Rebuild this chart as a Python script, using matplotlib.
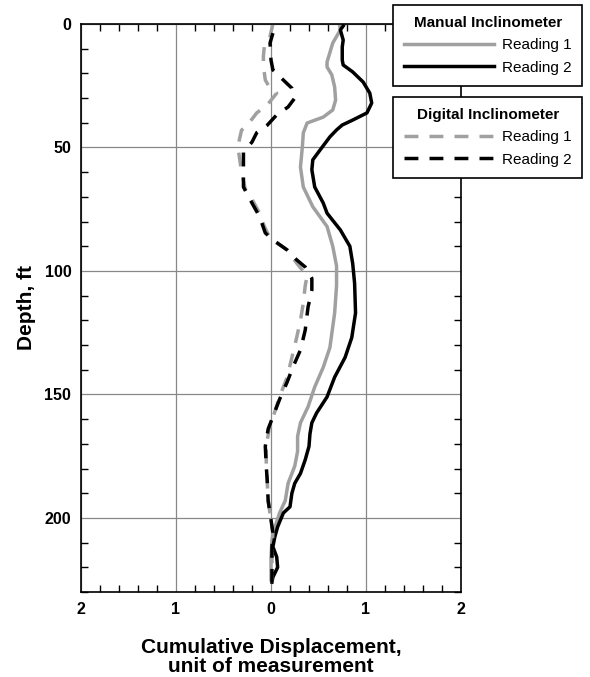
import numpy as np
import matplotlib
matplotlib.use("Agg")
import matplotlib.pyplot as plt
from matplotlib.ticker import MultipleLocator
from matplotlib.lines import Line2D

plt.rcParams['font.family'] = ['Liberation Sans', 'DejaVu Sans']

# Manual inclinometer, reading 1 (grey solid)
man1_depth = [0, 2.4, 7.7, 15.4, 17.4, 20.6, 25.5, 30.8, 34.8, 37.7, 40.1, 44.1, 49.8,
              57.9, 66, 74, 82, 90, 98, 106, 117, 131, 139, 147, 155, 161.5, 167, 173,
              179, 186, 193, 198, 204, 209, 216, 225]
man1_disp = [0.72, 0.73, 0.65, 0.59, 0.59, 0.64, 0.67, 0.68, 0.65, 0.55, 0.38, 0.34, 0.33,
             0.31, 0.34, 0.44, 0.59, 0.65, 0.69, 0.69, 0.67, 0.62, 0.55, 0.46, 0.39, 0.31,
             0.28, 0.28, 0.25, 0.18, 0.15, 0.09, 0.04, 0.01, 0.0, 0.0]

# Manual inclinometer, reading 2 (black solid)
man2_depth = [0.8, 2.4, 6.5, 9.3, 14.6, 16.6, 19.4, 23.5, 28, 32, 36, 38.9, 40.9, 42.9,
              45.7, 49.8, 55, 59, 66, 72.5, 76.6, 83.4, 90, 97, 105, 117, 127, 135, 143,
              151, 157.5, 161.5, 166, 171, 176.5, 182, 186, 190, 195.5, 198, 203.6, 207.7,
              211.7, 215.8, 220, 224, 226]
man2_disp = [0.76, 0.73, 0.76, 0.75, 0.75, 0.76, 0.86, 0.97, 1.04, 1.06, 1.01, 0.86, 0.75,
             0.69, 0.62, 0.54, 0.44, 0.43, 0.46, 0.55, 0.59, 0.73, 0.83, 0.86, 0.88, 0.89,
             0.85, 0.78, 0.67, 0.59, 0.48, 0.43, 0.41, 0.40, 0.36, 0.31, 0.25, 0.22, 0.20,
             0.13, 0.07, 0.04, 0.02, 0.06, 0.07, 0.02, 0.01]

# Digital inclinometer, reading 1 (grey dashed)
dig1_depth = [0, 5, 9, 13, 17, 22.7, 26, 28, 32.8, 36, 41, 43, 48, 52, 60, 67, 71, 76.6,
              82, 86.8, 91.5, 96.8, 102, 106, 113, 120, 127, 135, 143, 151, 157, 164, 171,
              179, 185, 193, 201, 206, 212, 220, 226]
dig1_disp = [0.02, -0.01, -0.07, -0.08, -0.08, -0.06, -0.01, 0.06, -0.04, -0.15, -0.25,
             -0.31, -0.34, -0.34, -0.31, -0.27, -0.2, -0.12, -0.07, -0.01, 0.17, 0.27, 0.38,
             0.36, 0.34, 0.31, 0.27, 0.22, 0.17, 0.09, 0.04, -0.02, -0.05, -0.05, -0.04,
             -0.03, 0.0, 0.02, 0.01, 0.01, 0.01]

# Digital inclinometer, reading 2 (black dashed)
dig2_depth = [3.7, 7.7, 14.6, 18.6, 22.7, 26, 30, 33.6, 36.8, 41, 44, 47.8, 52, 57.9, 66,
              72.5, 78, 84.6, 87.4, 91.5, 95.5, 98.4, 103, 107.7, 114.6, 124, 132, 139, 145,
              152, 159, 164, 171, 179, 184.6, 193, 200.8, 206, 212, 220, 226]
dig2_disp = [0.02, -0.01, 0.0, 0.02, 0.13, 0.22, 0.25, 0.18, 0.06, -0.04, -0.15, -0.2,
             -0.29, -0.29, -0.29, -0.2, -0.12, -0.06, 0.02, 0.17, 0.27, 0.36, 0.43, 0.43,
             0.39, 0.36, 0.31, 0.23, 0.17, 0.09, 0.02, -0.03, -0.06, -0.05, -0.04, -0.03,
             0.0, 0.02, 0.01, 0.01, 0.01]

x_ticks = [-2, -1, 0, 1, 2]
x_tick_labels = ['2', '1', '0', '1', '2']
y_ticks = [0, 50, 100, 150, 200]

grey = '#a0a0a0'
lw = 2.5
dash = (4.0, 3.2)

fig = plt.figure(figsize=(5.9, 6.77), dpi=100)
ax = fig.add_axes([81/590, 1 - 592/677, 380/590, 568/677])

ax.plot(man1_disp, man1_depth, color=grey, lw=lw, solid_joinstyle='round')
ax.plot(man2_disp, man2_depth, color='black', lw=lw, solid_joinstyle='round')
ax.plot(dig1_disp, dig1_depth, color=grey, lw=lw, dashes=dash)
ax.plot(dig2_disp, dig2_depth, color='black', lw=lw, dashes=dash)

ax.set_xlim(-2, 2)
ax.set_ylim(230, 0)
ax.set_xticks(x_ticks)
ax.set_xticklabels(x_tick_labels)
ax.set_yticks(y_ticks)
ax.xaxis.set_minor_locator(MultipleLocator(0.2))
ax.yaxis.set_minor_locator(MultipleLocator(10))
ax.grid(which='major', color='#888888', lw=0.9)
ax.tick_params(which='major', length=0, pad=7, labelsize=11.5)
ax.tick_params(which='minor', direction='in', length=5, width=1, color='black',
               top=True, right=True)
for lab in ax.get_xticklabels() + ax.get_yticklabels():
    lab.set_fontweight('bold')
for s in ax.spines.values():
    s.set_linewidth(1.2)

ax.set_xlabel('Cumulative Displacement,\nunit of measurement', fontsize=15,
              fontweight='bold', labelpad=15, linespacing=1.0)
ax.set_ylabel('Depth, ft', fontsize=15, fontweight='bold', labelpad=6)

leg_kw = dict(loc='upper left', bbox_transform=fig.transFigure, fontsize=11,
              title_fontproperties={'weight': 'bold', 'size': 11}, fancybox=False,
              framealpha=1, edgecolor='black', handlelength=5.9, handletextpad=0.5,
              borderpad=0.72, labelspacing=0.55, borderaxespad=0)
h_man = [Line2D([], [], color=grey, lw=lw), Line2D([], [], color='black', lw=lw)]
h_dig = [Line2D([], [], color=grey, lw=lw, dashes=dash),
         Line2D([], [], color='black', lw=lw, dashes=dash)]
leg1 = ax.legend(h_man, ['Reading 1', 'Reading 2'], title='Manual Inclinometer',
                 bbox_to_anchor=(393/590, 1 - 5/677), **leg_kw)
leg1.get_frame().set_linewidth(1.2)
ax.add_artist(leg1)
leg2 = ax.legend(h_dig, ['Reading 1', 'Reading 2'], title='Digital Inclinometer',
                 bbox_to_anchor=(393/590, 1 - 97/677), **leg_kw)
leg2.get_frame().set_linewidth(1.2)

fig.savefig('out.png', dpi=100)
